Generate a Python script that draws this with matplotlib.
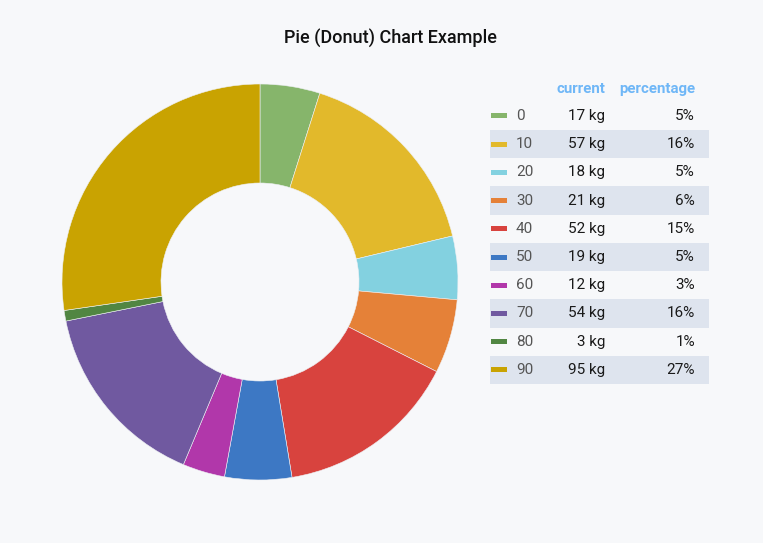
import matplotlib.pyplot as plt
from matplotlib.patches import Rectangle

labels = ['0', '10', '20', '30', '40', '50', '60', '70', '80', '90']
values = [17, 57, 18, 21, 52, 19, 12, 54, 3, 95]
colors = ['#86b56b', '#e2b92b', '#83d1e0', '#e58138', '#d8433e', '#3d78c4',
          '#b137aa', '#7059a0', '#518642', '#c9a301']

BG = '#f7f8fa'
W, H = 763, 543
plt.rcParams['font.family'] = ['Roboto', 'DejaVu Sans']

fig = plt.figure(figsize=(W / 100, H / 100), dpi=100, facecolor=BG)

def fx(x):
    return x / W

def fy(y):
    return 1 - y / H

# donut
cx, cy, r = 260, 282, 198
ax = fig.add_axes([fx(cx - r), fy(cy + r), 2 * r / W, 2 * r / H])
ax.set_facecolor(BG)
ax.pie(values, colors=colors, startangle=90, counterclock=False,
       radius=1, wedgeprops=dict(width=0.5, edgecolor='#eef0f4', linewidth=0.4))
ax.set_xlim(-1, 1)
ax.set_ylim(-1, 1)
ax.set_aspect('equal')
ax.axis('off')

fig.text(fx(390), fy(39), 'Pie (Donut) Chart Example', ha='center', va='center',
         fontsize=13, fontweight='medium', color='#111111')

# legend table
total = sum(values)
hdr_col = '#6fb7f7'
fig.text(fx(605), fy(89), 'current', ha='right', va='center', fontsize=10.8,
         color=hdr_col, fontweight='bold')
fig.text(fx(695), fy(89), 'percentage', ha='right', va='center', fontsize=10.8,
         color=hdr_col, fontweight='bold')

row0, step = 116, 28.2
for i, (lab, v, c) in enumerate(zip(labels, values, colors)):
    y = row0 + i * step
    if i % 2 == 1:
        fig.patches.append(Rectangle((fx(490), fy(y + step / 2)), (709 - 490) / W, step / H,
                                     transform=fig.transFigure, facecolor='#dee4ee',
                                     edgecolor='none', zorder=0))
    fig.patches.append(Rectangle((fx(491), fy(y + 2.5)), 16 / W, 5 / H,
                                 transform=fig.transFigure, facecolor=c,
                                 edgecolor='none', zorder=1))
    fig.text(fx(516), fy(y), lab, ha='left', va='center', fontsize=11, color='#555555')
    fig.text(fx(605), fy(y), f'{v} kg', ha='right', va='center', fontsize=11, color='#1a1a1a')
    fig.text(fx(695), fy(y), f'{round(v / total * 100)}%', ha='right', va='center',
             fontsize=11, color='#1a1a1a')

fig.savefig('out.png', dpi=100, facecolor=BG)
